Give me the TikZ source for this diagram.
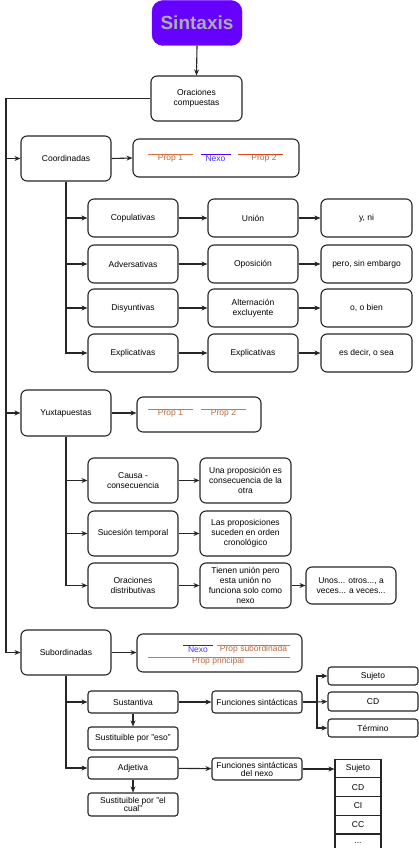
\documentclass[tikz,border=0pt]{standalone}
\usepackage{fontspec}
\setmainfont{Liberation Sans}
\usetikzlibrary{arrows.meta}
\definecolor{purp}{HTML}{6600FF}
\definecolor{titlegray}{HTML}{ADADAD}
\definecolor{proptext}{HTML}{B8693F}
\definecolor{propline}{HTML}{E0703F}
\definecolor{propline2}{HTML}{D9451A}
\definecolor{nexotext}{HTML}{4433FF}
\definecolor{nexoline}{HTML}{5500FF}
\tikzset{
  box/.style={draw=black!85, line width=1.1pt, fill=white, rounded corners=6pt, align=center, inner sep=1pt,
    font=\fontsize{8.5}{10}\selectfont, minimum width=90pt, minimum height=45pt},
  sbox/.style={box, rounded corners=3pt, minimum height=22pt},
  cell/.style={draw=black!85, line width=1.1pt, fill=white, minimum width=46pt, minimum height=18.7pt,
    inner sep=0pt, font=\fontsize{8.5}{10}\selectfont},
  arr/.style={draw=black!85, line width=1.1pt, -{Stealth[length=6pt,width=5pt]}},
  ln/.style={draw=black!85, line width=1.1pt},
  ptxt/.style={text=proptext, inner sep=0pt, font=\fontsize{8.5}{10}\selectfont},
  ntxt/.style={text=nexotext, inner sep=0pt, font=\fontsize{8.5}{10}\selectfont},
}
\begin{document}
\begin{tikzpicture}[x=1pt,y=-1pt]
\useasboundingbox (0,0) rectangle (419,848);
% title
\node[draw=purp, fill=purp, rounded corners=11pt, minimum width=90pt, minimum height=45pt,
  text=titlegray, font=\fontsize{19}{22}\selectfont\bfseries] (sint) at (197,23) {Sintaxis};
\node[box, minimum width=91pt] (orac) at (196.5,98.5) {Oraciones\\compuestas};
\draw[arr] (sint.south) -- (orac.north);

% level 1
\node[box] (coord) at (66,158.5) {Coordinadas};
\node[box, minimum height=46pt] (yuxt) at (66,413) {Yuxtapuestas};
\node[box] (sub) at (66,652.5) {Subordinadas};
\coordinate (t0) at (6,98.5);
\draw[ln] (orac.west) -- (t0);
\draw[arr] (t0) |- (sub.west);
\draw[arr] (t0 |- coord.west) -- (coord.west);
\draw[arr] (t0 |- yuxt.west) -- (yuxt.west);

% coordinadas scheme
\node[box, minimum width=166pt, minimum height=38pt] (cbox) at (216,158) {};
\draw[arr] (coord.east) -- (cbox.west);
\node[ptxt] (cp1) at (170.5,158.5) {Prop 1};
\node[ntxt] (cnx) at (215.5,158.5) {Nexo};
\node[ptxt] (cp2) at (264,158.5) {Prop 2};
\draw[propline, line width=0.8pt] (148,154.5) -- (193,154.5);
\draw[nexoline, line width=0.8pt] (201,154.5) -- (231,154.5);
\draw[propline2, line width=0.8pt] (238,154.5) -- (283,154.5);

% coordinadas rows
\node[box, minimum height=38pt] (cop) at (133,218) {Copulativas};
\node[box, minimum height=38pt] (uni) at (253,218) {Unión};
\node[box, minimum height=38pt, minimum width=91pt] (yni) at (366.5,218) {y, ni};
\node[box, minimum height=38pt] (adv) at (133,264) {Adversativas};
\node[box, minimum height=38pt] (opo) at (253,264) {Oposición};
\node[box, minimum height=38pt, minimum width=91pt] (pero) at (366.5,264) {pero, sin embargo};
\node[box, minimum height=38pt] (disy) at (133,308) {Disyuntivas};
\node[box, minimum height=38pt] (alt) at (253,308) {Alternación\\excluyente};
\node[box, minimum height=38pt, minimum width=91pt] (obien) at (366.5,308) {o, o bien};
\node[box, minimum height=38pt] (expl) at (133,353) {Explicativas};
\node[box, minimum height=38pt] (expl2) at (253,353) {Explicativas};
\node[box, minimum height=38pt, minimum width=91pt] (esdecir) at (366.5,353) {es decir, o sea};
\draw[arr] (coord.south) |- (expl.west);
\foreach \n in {cop,adv,disy} \draw[arr] (coord.south |- \n.west) -- (\n.west);
\draw[arr] (cop) -- (uni); \draw[arr] (uni) -- (yni);
\draw[arr] (adv) -- (opo); \draw[arr] (opo) -- (pero);
\draw[arr] (disy) -- (alt); \draw[arr] (alt) -- (obien);
\draw[arr] (expl) -- (expl2); \draw[arr] (expl2) -- (esdecir);

% yuxtapuestas scheme
\node[box, minimum width=124pt, minimum height=35pt] (ybox) at (199,414.5) {};
\draw[arr] (yuxt.east) -- (yuxt.east -| ybox.west);
\node[ptxt] (yp1) at (170.5,413.5) {Prop 1};
\node[ptxt] (yp2) at (223.5,413.5) {Prop 2};
\draw[propline, line width=0.8pt] (148,409.5) -- (193,409.5);
\draw[propline, line width=0.8pt] (201,409.5) -- (246,409.5);

\node[box] (causa) at (133,480.5) {Causa -\\consecuencia};
\node[box, minimum width=91pt] (una) at (245.5,480.5) {Una proposición es\\consecuencia de la\\otra};
\node[box] (suc) at (133,533.5) {Sucesión temporal};
\node[box, minimum width=91pt] (las) at (245.5,533.5) {Las proposiciones\\suceden en orden\\cronológico};
\node[box] (dist) at (133,585.5) {Oraciones\\distributivas};
\node[box, minimum width=91pt] (tienen) at (245.5,585.5) {Tienen unión pero\\esta unión no\\funciona solo como\\nexo};
\node[box, minimum height=37pt] (unos) at (351,585.5) {Unos... otros..., a\\veces... a veces...};
\draw[arr] (yuxt.south) |- (dist.west);
\foreach \n in {causa,suc} \draw[arr] (yuxt.south |- \n.west) -- (\n.west);
\draw[arr] (causa) -- (una);
\draw[arr] (suc) -- (las);
\draw[arr] (dist) -- (tienen);
\draw[arr] (tienen) -- (unos);

% subordinadas scheme
\node[box, minimum width=165pt, minimum height=38pt] (sbx) at (219.5,653) {};
\draw[arr] (sub.east) -- (sub.east -| sbx.west);
\node[ntxt] (snx) at (198,649.5) {Nexo};
\node[ptxt] (ssub) at (253.5,649.5) {Prop subordinada};
\node[ptxt] (sprin) at (218,661.5) {Prop principal};
\draw[nexoline, line width=0.8pt] (183,645.5) -- (213,645.5);
\draw[propline, line width=0.8pt] (217,645.5) -- (290,645.5);
\draw[propline, line width=0.8pt] (148,657.5) -- (290,657.5);

\node[sbox] (sust) at (133,702) {Sustantiva};
\node[sbox] (func) at (257,702) {Funciones sintácticas};
\node[sbox, minimum height=18pt] (suj) at (373,676) {Sujeto};
\node[sbox, minimum height=19pt] (cd) at (373,701.5) {CD};
\node[sbox, minimum height=18pt] (term) at (373,728) {Término};
\node[sbox, minimum height=23pt] (eso) at (133,738.5) {Sustituible por "eso"};
\node[sbox] (adj) at (133,768) {Adjetiva};
\node[sbox] (funcn) at (257,769) {Funciones sintácticas\\[-2pt]del nexo};
\node[sbox, minimum height=23pt] (cual) at (133,804.5) {Sustituible por "el\\[-2pt]cual"};
\draw[arr] (sub.south) |- (adj.west);
\draw[arr] (sub.south |- sust.west) -- (sust.west);
\draw[arr] (sust) -- (func);
\coordinate (fj) at (317,702);
\draw[ln] (func.east) -- (fj);
\draw[arr] (fj) |- (suj.west);
\draw[arr] (fj) -- (cd.west);
\draw[arr] (fj) |- (term.west);
\draw[arr] (sust.south) -- (eso.north);
\draw[arr] (adj.south) -- (cual.north);
\draw[arr] (adj) -- (funcn);

% table
\node[cell] (r1) at (358,768.5) {Sujeto};
\node[cell] (r2) at (358,787.2) {CD};
\node[cell] (r3) at (358,805.9) {CI};
\node[cell] (r4) at (358,824.6) {CC};
\node[cell] (r5) at (358,843.3) {...};
\draw[arr] (funcn.east) -- (funcn.east -| r1.west);
\end{tikzpicture}
\end{document}
